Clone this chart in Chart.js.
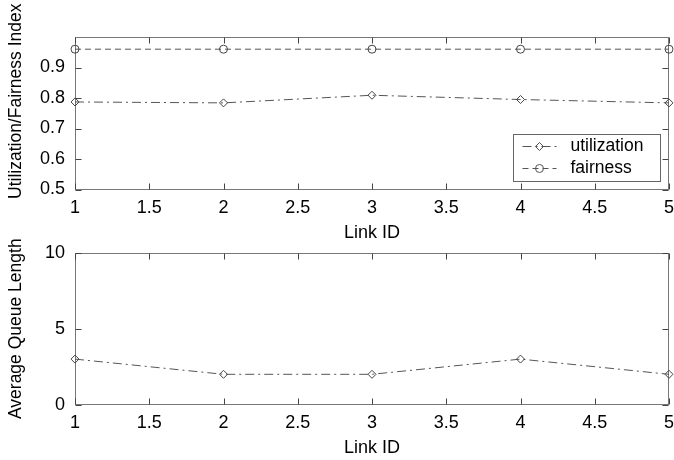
<!DOCTYPE html>
<html>
<head>
<meta charset="utf-8">
<title>Link utilization and queue length</title>
<script src="https://cdn.jsdelivr.net/npm/chart.js@4.4.1/dist/chart.umd.min.js"></script>
<style>
  body { margin: 0; background: #fff; }
  #wrap { position: relative; width: 674px; height: 460px; }
  #wrap canvas { position: absolute; left: 0; }
</style>
</head>
<body>
<div id="wrap">
  <canvas id="rateChart" width="674" height="244" style="top:0;width:674px;height:244px"></canvas>
  <canvas id="queueChart" width="674" height="230" style="top:230px;width:674px;height:230px"></canvas>
</div>
<script>
// per-link results
const linkIds = [1, 2, 3, 4, 5];
const utilization = [0.787, 0.784, 0.809, 0.795, 0.784];
const fairness = [0.96, 0.96, 0.96, 0.96, 0.96];
const avgQueue = [3, 2, 2, 3, 2];

// tick values
const linkTicks = [1, 1.5, 2, 2.5, 3, 3.5, 4, 4.5, 5];
const rateTicks = [0.5, 0.6, 0.7, 0.8, 0.9];
const queueTicks = [0, 5, 10];

const FONT = "'Liberation Sans', Arial, sans-serif";
Chart.defaults.font.family = FONT;
Chart.defaults.color = '#000';

const points = ys => linkIds.map((x, i) => ({ x: x, y: ys[i] }));

// matlab-ish box with inward tick marks + rotated y label
const frame = {
  id: 'frame',
  beforeDatasetsDraw(chart) {
    const { ctx, chartArea: a, scales: { x, y } } = chart;
    const l = Math.round(a.left) + 0.5, r = Math.round(a.right) - 0.5;
    const t = Math.round(a.top) + 0.5, b = Math.round(a.bottom) - 0.5;
    ctx.save();
    ctx.lineWidth = 1;
    ctx.strokeStyle = '#777';
    ctx.strokeRect(l, t, r - l, b - t);
    ctx.strokeStyle = '#444';
    ctx.beginPath();
    x.ticks.forEach(tk => {
      const px = Math.round(x.getPixelForValue(tk.value)) + 0.5;
      ctx.moveTo(px, b); ctx.lineTo(px, b - 6);
      ctx.moveTo(px, t); ctx.lineTo(px, t + 6);
    });
    y.ticks.forEach(tk => {
      const py = Math.round(y.getPixelForValue(tk.value)) + 0.5;
      ctx.moveTo(l, py); ctx.lineTo(l + 6, py);
      ctx.moveTo(r, py); ctx.lineTo(r - 6, py);
    });
    ctx.stroke();
    ctx.restore();
  },
  afterDraw(chart, args, opts) {
    const { ctx, chartArea: a } = chart;
    ctx.save();
    ctx.translate(16.5, (a.top + a.bottom) / 2 + (opts.shift || 0));
    ctx.rotate(-Math.PI / 2);
    ctx.font = '17.5px ' + FONT;
    ctx.fillStyle = '#000';
    ctx.textAlign = 'center';
    ctx.textBaseline = 'middle';
    ctx.fillText(opts.text, 0, 0);
    ctx.restore();
  }
};

function drawMarker(ctx, style, cx, cy, r) {
  ctx.beginPath();
  if (style === 'circle') {
    ctx.arc(cx, cy, r, 0, Math.PI * 2);
  } else {
    ctx.moveTo(cx, cy - r); ctx.lineTo(cx + r, cy);
    ctx.lineTo(cx, cy + r); ctx.lineTo(cx - r, cy);
    ctx.closePath();
  }
  ctx.stroke();
}

// legend box in the lower right corner of the plot
const cornerLegend = {
  id: 'cornerLegend',
  afterDraw(chart) {
    const { ctx, chartArea: a } = chart;
    const w = 147, h = 47;
    const left = Math.round(a.right - 9 - w) + 0.5, top = Math.round(a.bottom - 9 - h) + 0.5;
    ctx.save();
    ctx.fillStyle = '#fff';
    ctx.fillRect(left, top, w, h);
    ctx.strokeStyle = '#666';
    ctx.lineWidth = 1;
    ctx.strokeRect(left, top, w, h);
    chart.data.datasets.forEach((ds, i) => {
      const cy = top + 12 + i * 22;
      ctx.strokeStyle = ds.borderColor;
      ctx.setLineDash(ds.borderDash);
      ctx.beginPath();
      ctx.moveTo(left + 9, cy); ctx.lineTo(left + 43, cy);
      ctx.stroke();
      ctx.setLineDash([]);
      drawMarker(ctx, ds.pointStyle, left + 26, cy, ds.pointRadius);
      ctx.fillStyle = '#000';
      ctx.font = '17.5px ' + FONT;
      ctx.textBaseline = 'middle';
      ctx.fillText(ds.label, left + 57, cy);
    });
    ctx.restore();
  }
};

function xScale(height, titlePad) {
  return {
    type: 'linear', min: 1, max: 5,
    afterBuildTicks: s => { s.ticks = linkTicks.map(v => ({ value: v })); },
    afterFit: s => { s.height = height; s.paddingLeft = 0; s.paddingRight = 0; },
    grid: { display: false, drawTicks: false },
    border: { display: false },
    ticks: { padding: 8, font: { size: 18 }, color: '#000', maxRotation: 0, callback: v => String(v) },
    title: { display: true, text: 'Link ID', color: '#000', font: { size: 18 }, padding: { top: 0, bottom: titlePad } }
  };
}

function yScale(min, max, tickVals) {
  return {
    min: min, max: max,
    afterBuildTicks: s => { s.ticks = tickVals.map(v => ({ value: v })); },
    afterFit: s => { s.width = 75; },
    grid: { display: false, drawTicks: false },
    border: { display: false },
    ticks: { padding: 10, font: { size: 18 }, color: '#000', callback: v => String(v) }
  };
}

const lineStyle = {
  borderColor: '#555',
  borderWidth: 1,
  pointBorderColor: '#444',
  pointBackgroundColor: 'rgba(0,0,0,0)',
  pointBorderWidth: 1,
  tension: 0,
  clip: false
};

new Chart(document.getElementById('rateChart'), {
  type: 'line',
  data: {
    datasets: [
      Object.assign({ label: 'utilization', data: points(utilization), borderDash: [9, 4, 2, 4], pointStyle: 'rectRot', pointRadius: 4 }, lineStyle),
      Object.assign({ label: 'fairness', data: points(fairness), borderDash: [6, 4], pointStyle: 'circle', pointRadius: 4 }, lineStyle)
    ]
  },
  options: {
    responsive: false,
    animation: false,
    layout: { padding: { top: 37, right: 5, left: 0, bottom: 0 } },
    plugins: {
      legend: { display: false },
      tooltip: { enabled: false },
      frame: { text: 'Utilization/Fairness Index', shift: -12 }
    },
    scales: { x: xScale(54.5, 0), y: yScale(0.5, 1, rateTicks) }
  },
  plugins: [frame, cornerLegend]
});

new Chart(document.getElementById('queueChart'), {
  type: 'line',
  data: {
    datasets: [
      Object.assign({ label: 'queue', data: points(avgQueue), borderDash: [9, 4, 2, 4], pointStyle: 'rectRot', pointRadius: 4 }, lineStyle)
    ]
  },
  options: {
    responsive: false,
    animation: false,
    layout: { padding: { top: 22.7, right: 5, left: 0, bottom: 0 } },
    plugins: {
      legend: { display: false },
      tooltip: { enabled: false },
      frame: { text: 'Average Queue Length', shift: 0 }
    },
    scales: { x: xScale(55.3, 1), y: yScale(0, 10, queueTicks) }
  },
  plugins: [frame]
});
</script>
</body>
</html>
